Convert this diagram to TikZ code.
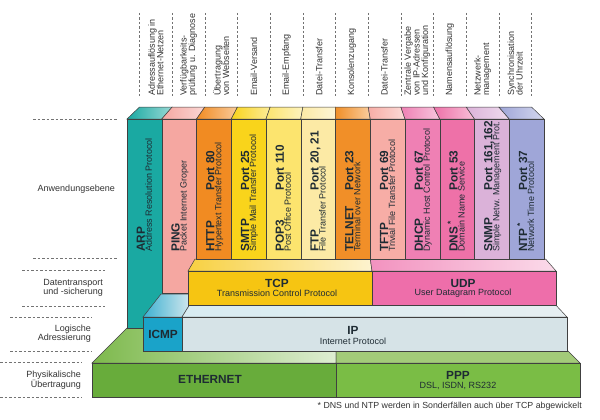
\documentclass[tikz,border=0pt]{standalone}
\usepackage{fontspec}
\setmainfont{Liberation Sans}
\definecolor{edgec}{HTML}{404040}
\definecolor{txt}{HTML}{1E2B33}
\definecolor{cARP}{HTML}{1AA9A2}
\definecolor{cPING}{HTML}{F5A7A1}
\definecolor{cHTTP}{HTML}{F18B22}
\definecolor{cSMTP}{HTML}{F9D41B}
\definecolor{cPOP}{HTML}{FCE46E}
\definecolor{cFTP}{HTML}{FCEAA5}
\definecolor{cTEL}{HTML}{F18F28}
\definecolor{cTFTP}{HTML}{F7ADA6}
\definecolor{cDHCP}{HTML}{EF80B4}
\definecolor{cDNS}{HTML}{EE71A8}
\definecolor{cSNMP}{HTML}{DBB2D9}
\definecolor{cNTP}{HTML}{9FA6D8}
\definecolor{cTCP}{HTML}{F6C512}
\definecolor{cUDP}{HTML}{EE6EAA}
\definecolor{cICMP}{HTML}{1AA3C9}
\definecolor{cIP}{HTML}{D6E3E7}
\definecolor{cIPtop}{HTML}{E6EEF1}
\definecolor{cETH}{HTML}{68AC3B}
\definecolor{cPPP}{HTML}{7ABD45}
\definecolor{cETHtop}{HTML}{7DB94C}
\definecolor{cPPPtop}{HTML}{A3CB79}
\tikzset{
  face/.style={draw=edgec, line width=0.5pt, inner sep=0pt, outer sep=0pt},
  guide/.style={draw=black!55, line width=0.5pt, dash pattern=on 2.5pt off 2pt},
  sidelab/.style={font=\fontsize{9}{9.2}\selectfont, text=black!80, inner sep=0pt, align=right, anchor=east},
  toplab/.style={font=\fontsize{9}{8.6}\selectfont, text=black!80, inner sep=0pt, align=left, anchor=west, rotate=90},
  pname/.style={font=\fontsize{11.8}{12}\selectfont\bfseries, text=txt, inner sep=0pt},
  pdesc/.style={font=\fontsize{9}{10}\selectfont, text=txt, inner sep=0pt},
}
\newcommand\AppCol[7]{%
  \pgfmathsetmacro\cxl{127+34.75*#2}%
  \pgfmathsetmacro\cxr{\cxl+34.75}%
  \pgfmathsetmacro\cbl{336+(\cxl-336)*0.94}%
  \pgfmathsetmacro\cbr{336+(\cxr-336)*0.94}%
  \pgfmathsetmacro\cxc{\cxl+17.375}%
  \pgfmathsetmacro\chh{#3-119}%
  \shadedraw[face, left color=#4, right color=#4!45!white] (\cxl,119) -- (\cbl,107) -- (\cbr,107) -- (\cxr,119) -- cycle;
  \node[face, fill=#4, minimum width=34.75pt, minimum height=\chh pt, anchor=north west] (#1) at (\cxl,119) {};
  \node[pname, rotate=90, anchor=base west] (#1-n) at (\cxc+0.5,252) {#5};
  \if\relax\detokenize{#6}\relax\else
  \node[pname, rotate=90, anchor=base west] (#1-p) at (\cxc+0.5,191) {#6};\fi
  \node[pdesc, rotate=90, anchor=base west] (#1-d) at (\cxc+7.5,252) {#7};
}
\begin{document}
\begin{tikzpicture}[x=1pt, y=-1pt]
\useasboundingbox (0,0) rectangle (600,420);

% ---------- top labels and guides ----------
\foreach \k in {0,...,12}{
  \pgfmathsetmacro\gx{336+(127+34.75*\k-336)*0.94}
  \draw[guide] (\gx,13) -- (\gx,98);
}
\foreach \k/\t in {0/{Adressauflösung in\\Ethernet-Netzen},
                   1/{Verfügbarkeits-\\prüfung u. Diagnose},
                   2/{Übertragung\\von Webseiten},
                   3/{Email-Versand},
                   4/{Email-Empfang},
                   5/{Datei-Transfer},
                   6/{Konsolenzugang},
                   7/{Datei-Transfer},
                   8/{Zentrale Vergabe\\von IP-Adressen\\und Konfiguration},
                   9/{Namensauflösung},
                   10/{Netzwerk-\\management},
                   11/{Synchronisation\\der Uhrzeit}}{
  \pgfmathsetmacro\tx{336+(127+34.75*\k+17.375-336)*0.94}
  \node[toplab] (top\k) at (\tx,96) {\t};
}

% ---------- side labels ----------
\draw[guide] (33,119) -- (117,119);
\draw[guide] (33,258) -- (117,258);
\node[sidelab] (l1) at (115,189) {Anwendungsebene};
\draw[guide] (22,270) -- (105,270);
\draw[guide] (22,306) -- (105,306);
\node[sidelab] (l2) at (103,288) {Datentransport\\und -sicherung};
\draw[guide] (10,317) -- (92,317);
\draw[guide] (10,351) -- (92,351);
\node[sidelab] (l3) at (91,334) {Logische\\Adressierung};
\draw[guide] (0,362) -- (82,362);
\draw[guide] (0,397) -- (82,397);
\node[sidelab] (l4) at (81,380) {Physikalische\\Übertragung};

% ---------- physical layer ----------
\shadedraw[face, left color=cETHtop, right color=cETHtop!25!white] (92,363) -- (127,328) -- (336,328) -- (336,363) -- cycle;
\filldraw[face, fill=cPPPtop] (336,363) -- (336,328) -- (545,328) -- (580,363) -- cycle;
\node[face, fill=cETH, minimum width=244pt, minimum height=34pt, anchor=north west] (eth) at (92,363) {};
\node[face, fill=cPPP, minimum width=244pt, minimum height=34pt, anchor=north west] (ppp) at (336,363) {};
\node[pname] (eth-n) at (210,379) {ETHERNET};
\node[pname] (ppp-n) at (458,375) {PPP};
\node[pdesc] (ppp-d) at (458,386) {DSL, ISDN, RS232};

% ---------- ARP and PING ----------
\AppCol{arp}{0}{328}{cARP}{ARP}{}{Address Resolution Protocol}
\AppCol{ping}{1}{293}{cPING}{PING}{}{Packet Internet Groper}

% ---------- IP layer ----------
\shadedraw[face, left color=cICMP!85!white, right color=cIPtop] (143,317) -- (161,294) -- (196.3,294) -- (182,317) -- cycle;
\shadedraw[face, left color=cIP!70!cICMP!40!white, right color=cIPtop] (182,317) -- (196.3,294) -- (545.5,294) -- (567,317) -- cycle;
\node[face, fill=cICMP, minimum width=39pt, minimum height=34pt, anchor=north west] (icmp) at (143,317) {};
\node[face, fill=cIP, minimum width=385pt, minimum height=34pt, anchor=north west] (ip) at (182,317) {};
\node[pname] (icmp-n) at (163,334) {ICMP};
\node[pname] (ip-n) at (353,330) {IP};
\node[pdesc] (ip-d) at (353,341) {Internet Protocol};

% ---------- transport layer ----------
\shadedraw[face, left color=cTCP!80!white, right color=cTCP!20!white] (188,271) -- (195,259) -- (370.3,259) -- (372,271) -- cycle;
\shadedraw[face, left color=cUDP!75!white, right color=cUDP!25!white] (372,271) -- (370.3,259) -- (545.6,259) -- (556,271) -- cycle;
\node[face, fill=cTCP, minimum width=184pt, minimum height=34pt, anchor=north west] (tcp) at (188,271) {};
\node[face, fill=cUDP, minimum width=184pt, minimum height=34pt, anchor=north west] (udp) at (372,271) {};
\node[pname] (tcp-n) at (277,283) {TCP};
\node[pdesc] (tcp-d) at (277,293) {Transmission Control Protocol};
\node[pname] (udp-n) at (463,283) {UDP};
\node[pdesc] (udp-d) at (463,293) {User Datagram Protocol};

% ---------- application columns ----------
\AppCol{http}{2}{259}{cHTTP}{HTTP}{Port 80}{Hypertext Transfer Protocol}
\AppCol{smtp}{3}{259}{cSMTP}{SMTP}{Port 25}{Simple Mail Transfer Protocol}
\AppCol{pop}{4}{259}{cPOP}{POP3}{Port 110}{Post Office Protocol}
\AppCol{ftp}{5}{259}{cFTP}{FTP}{Port 20, 21}{File Transfer Protocol}
\AppCol{telnet}{6}{259}{cTEL}{TELNET}{Port 23}{Terminal over Network}
\AppCol{tftp}{7}{259}{cTFTP}{TFTP}{Port 69}{Trivial File Transfer Protocol}
\AppCol{dhcp}{8}{259}{cDHCP}{DHCP}{Port 67}{Dynamic Host Control Protocol}
\AppCol{dns}{9}{259}{cDNS}{DNS\,\textsuperscript{*}}{Port 53}{Domain Name Service}
\AppCol{snmp}{10}{259}{cSNMP}{SNMP}{Port 161,162}{Simple Netw. Management Prot.}
\AppCol{ntp}{11}{259}{cNTP}{NTP\,\textsuperscript{*}}{Port 37}{Network Time Protocol}

% ---------- footnote ----------
\node[font=\fontsize{8.8}{9}\selectfont, text=black!80, inner sep=0pt, anchor=base east] (foot) at (582,408) {* DNS und NTP werden in Sonderfällen auch über TCP abgewickelt};
\end{tikzpicture}
\end{document}
